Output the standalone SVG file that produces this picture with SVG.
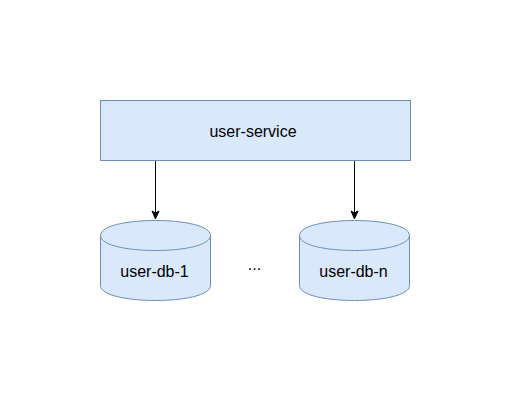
<svg xmlns="http://www.w3.org/2000/svg" width="511" height="401" viewBox="0 0 511 401">
<defs>
<style>
.node{fill:#dae8fc;stroke:#6c8ebf;stroke-width:1}
.lbl{font-family:"Liberation Sans",Arial,sans-serif;font-size:16px;fill:#000;text-anchor:middle}
.edge{stroke:#000;stroke-width:1;fill:none}
</style>
<marker id="arr" markerWidth="10" markerHeight="10" viewBox="0 0 10 10" refX="9" refY="5" orient="auto" markerUnits="userSpaceOnUse">
<path d="M1,1.5 L9,5 L1,8.5 L3,5 Z" fill="#000" stroke="#000" stroke-width="1"/>
</marker>
</defs>
<rect width="511" height="401" fill="#ffffff"/>
<g id="connectors">
<line class="edge" x1="155.5" y1="160" x2="155.5" y2="219" marker-end="url(#arr)"/>
<line class="edge" x1="354.5" y1="160" x2="354.5" y2="219" marker-end="url(#arr)"/>
</g>
<g id="user-service">
<rect class="node" x="100.5" y="100.5" width="310" height="60"/>
<text class="lbl" x="253" y="137">user-service</text>
</g>
<g id="user-db-1">
<path class="node" d="M100.5,235.5 C100.5,215.5 210.5,215.5 210.5,235.5 L210.5,285.5 C210.5,305.5 100.5,305.5 100.5,285.5 Z"/>
<path class="node" fill="none" style="fill:none" d="M100.5,235.5 C100.5,255.5 210.5,255.5 210.5,235.5"/>
<text class="lbl" x="154.5" y="277">user-db-1</text>
</g>
<g id="ellipsis">
<text class="lbl" x="254.5" y="270">...</text>
</g>
<g id="user-db-n">
<path class="node" d="M299.5,235.5 C299.5,215.5 409.5,215.5 409.5,235.5 L409.5,285.5 C409.5,305.5 299.5,305.5 299.5,285.5 Z"/>
<path class="node" style="fill:none" d="M299.5,235.5 C299.5,255.5 409.5,255.5 409.5,235.5"/>
<text class="lbl" x="353.5" y="277">user-db-n</text>
</g>
</svg>
